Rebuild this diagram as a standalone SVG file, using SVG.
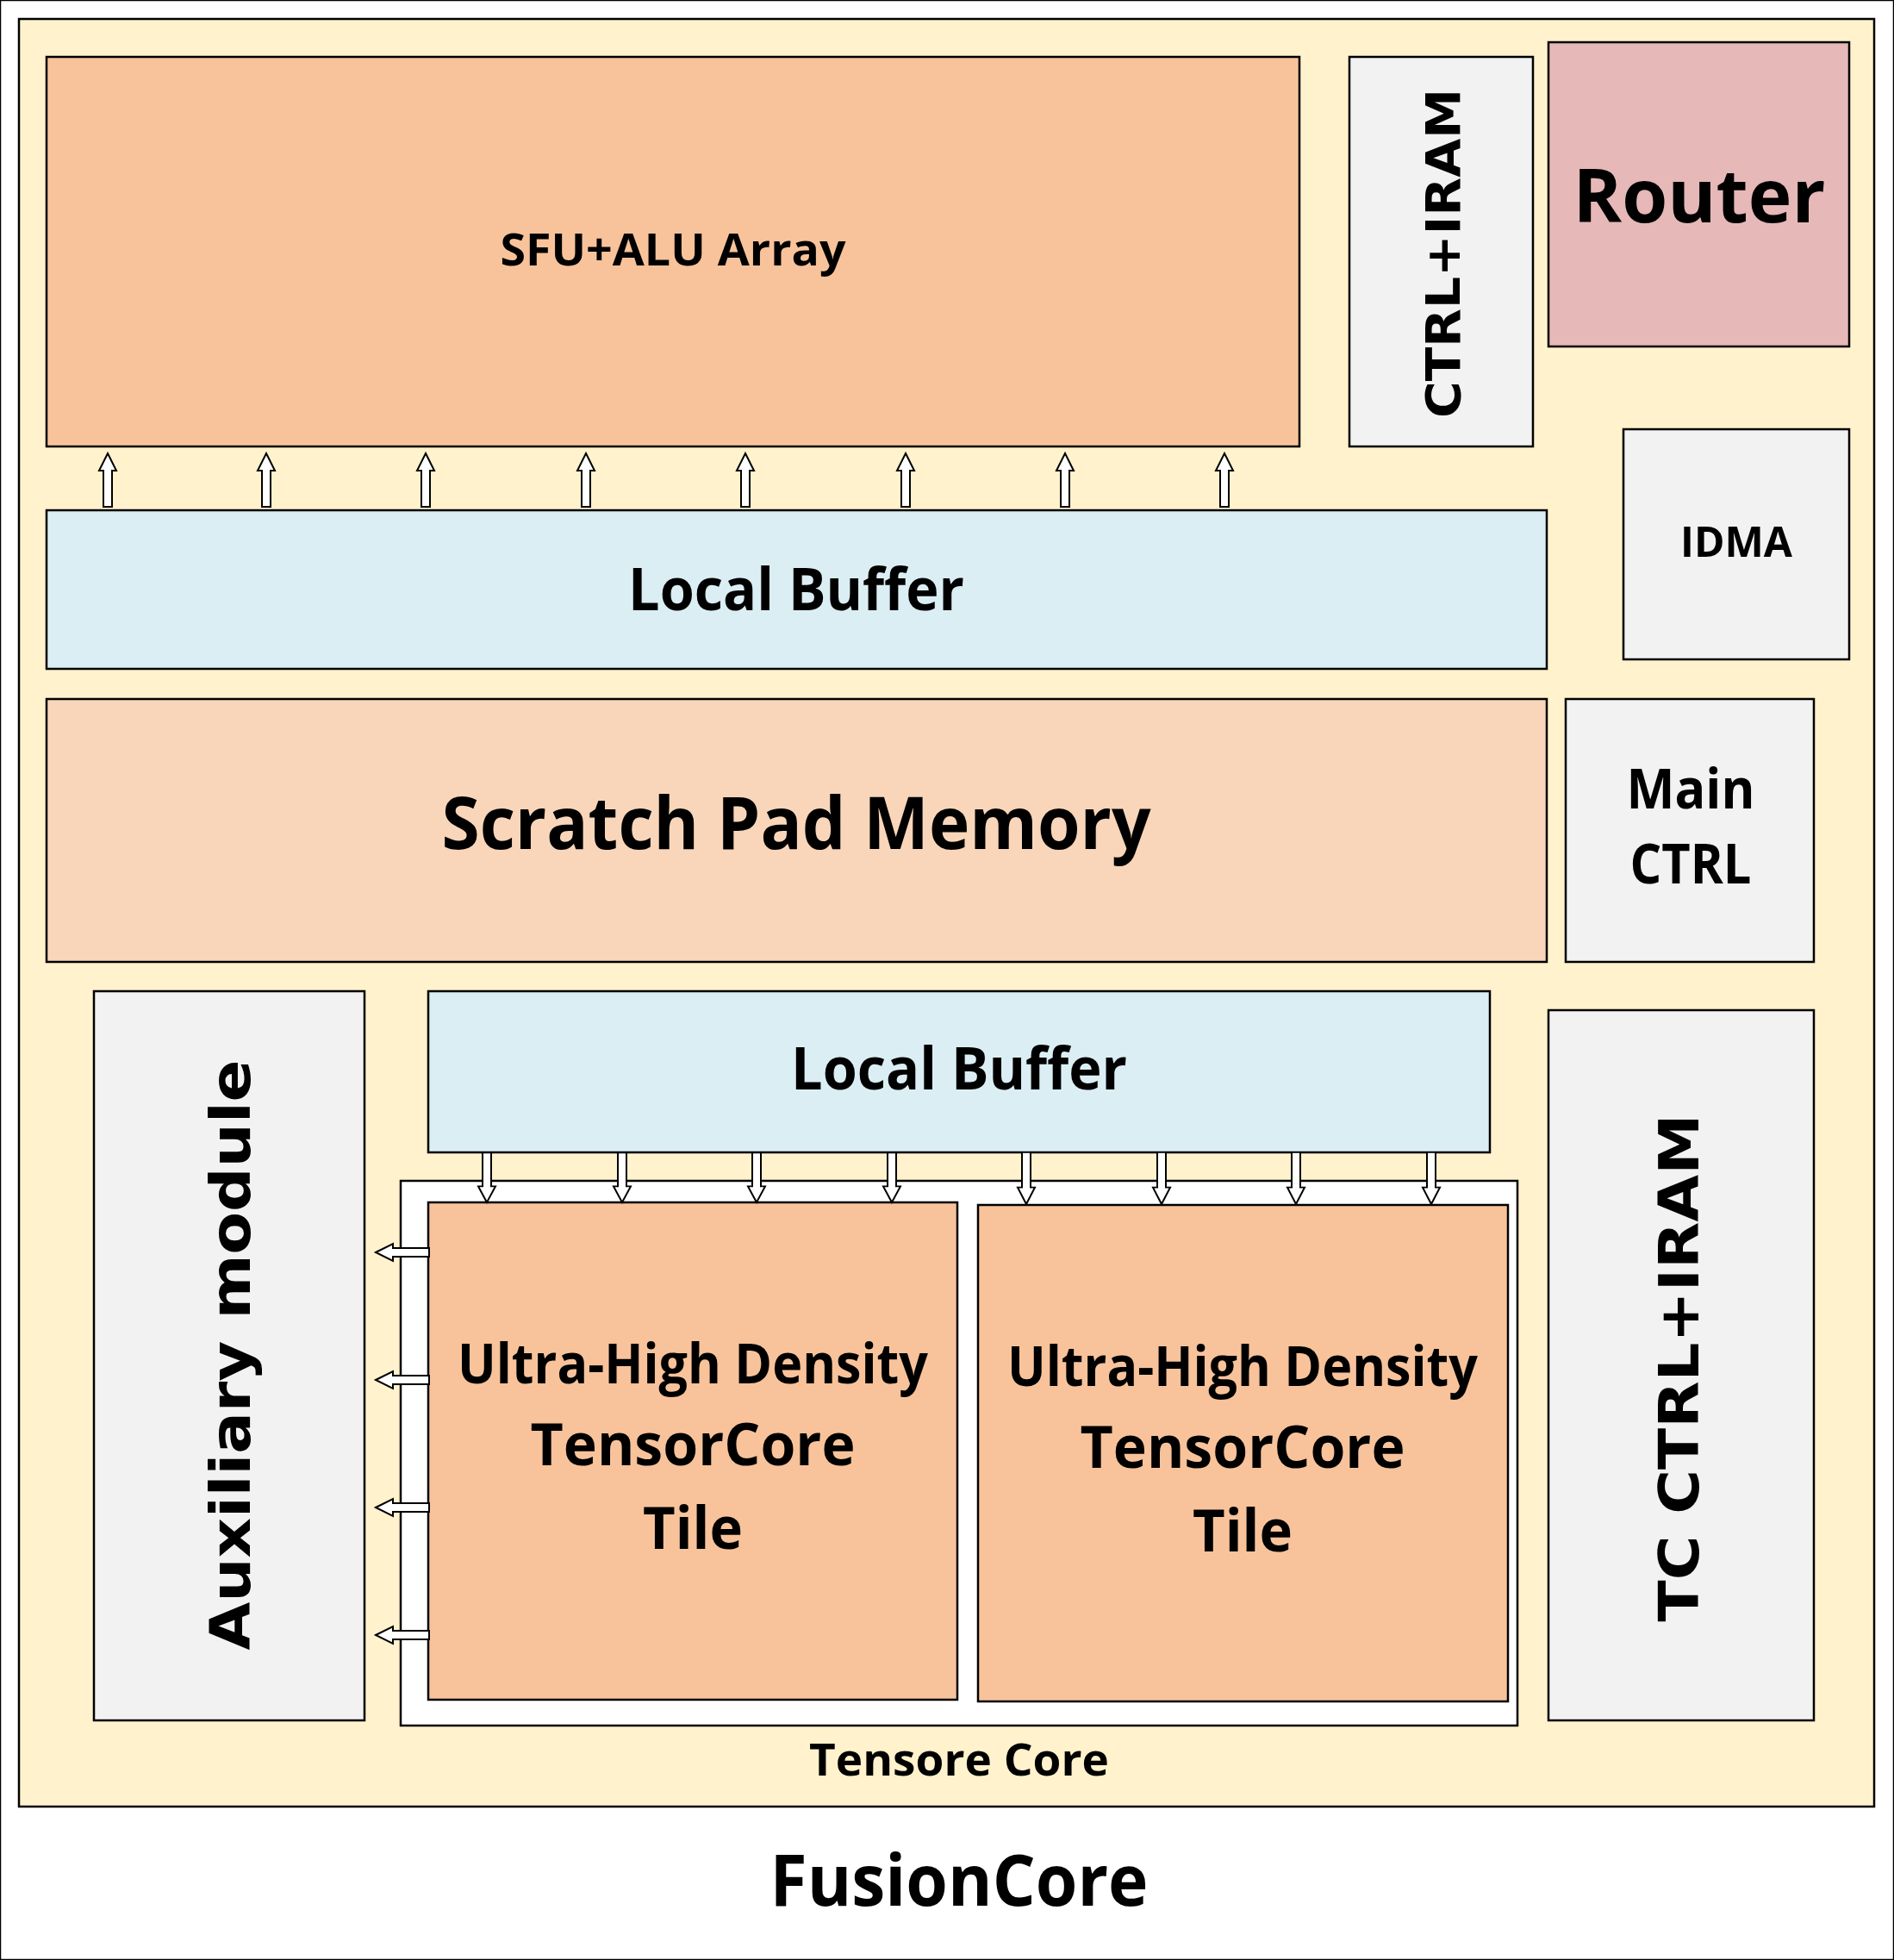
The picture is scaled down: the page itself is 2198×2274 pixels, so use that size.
<svg xmlns="http://www.w3.org/2000/svg" xmlns:xlink="http://www.w3.org/1999/xlink" width="2198" height="2274" viewBox="0 0 2198 2274">
<style>
rect{stroke:#000;stroke-width:2.5}
text{font-family:"Open Sans","Noto Sans",sans-serif;font-weight:bold;fill:#000;text-anchor:middle}
.v{font-family:"DejaVu Sans",sans-serif;dominant-baseline:central}
.arr{fill:#fff;stroke:#000;stroke-width:2}
</style>
<defs>
<path id="a" class="arr" d="M0,0 L10,20 L5,20 L5,62 L-5,62 L-5,20 L-10,20 Z"/>
</defs>
<rect width="2198" height="2274" fill="#fff" stroke="none"/>
<g id="fusioncore"><rect x="22" y="22" width="2153" height="2074" fill="#FFF2CC"/>
<text x="1113" y="2211" font-size="82" textLength="439" lengthAdjust="spacingAndGlyphs">FusionCore</text></g>
<g id="sfu"><rect x="54" y="66" width="1454" height="452" fill="#F8C39B"/>
<text x="781" y="308" font-size="52" textLength="401" lengthAdjust="spacingAndGlyphs">SFU+ALU Array</text></g>
<g id="ctrl-iram"><rect x="1566" y="66" width="213" height="452" fill="#F2F2F2"/>
<text class="v" transform="translate(1674,294) rotate(-90)" font-size="56" textLength="382" lengthAdjust="spacingAndGlyphs">CTRL+IRAM</text></g>
<g id="router"><rect x="1797" y="49" width="349" height="353" fill="#E6B8B7"/>
<text x="1972" y="258" font-size="86" textLength="293" lengthAdjust="spacingAndGlyphs">Router</text></g>
<g id="idma"><rect x="1884" y="498" width="262" height="267" fill="#F2F2F2"/>
<text x="2015" y="646" font-size="48" textLength="130" lengthAdjust="spacingAndGlyphs">IDMA</text></g>
<g id="local-buffer-1"><rect x="54" y="592" width="1741" height="184" fill="#DBEEF4"/>
<text x="924" y="708" font-size="68" textLength="390" lengthAdjust="spacingAndGlyphs">Local Buffer</text></g>
<g id="scratch"><rect x="54" y="811" width="1741" height="305" fill="#F9D6BA"/>
<text x="924" y="985" font-size="84" textLength="823" lengthAdjust="spacingAndGlyphs">Scratch Pad Memory</text></g>
<g id="main-ctrl"><rect x="1817" y="811" width="288" height="305" fill="#F2F2F2"/>
<text x="1962" y="938" font-size="64" textLength="149" lengthAdjust="spacingAndGlyphs">Main</text>
<text x="1962" y="1025" font-size="64" textLength="141" lengthAdjust="spacingAndGlyphs">CTRL</text></g>
<g id="aux"><rect x="109" y="1150" width="314" height="846" fill="#F2F2F2"/>
<text class="v" transform="translate(268,1572) rotate(-90)" font-size="64" textLength="685" lengthAdjust="spacingAndGlyphs">Auxiliary module</text></g>
<g id="local-buffer-2"><rect x="497" y="1150" width="1232" height="187" fill="#DBEEF4"/>
<text x="1113" y="1264" font-size="68" textLength="390" lengthAdjust="spacingAndGlyphs">Local Buffer</text></g>
<g id="tensor-core"><rect x="465" y="1370" width="1296" height="632" fill="#fff"/>
<text x="1113" y="2060" font-size="52" textLength="348" lengthAdjust="spacingAndGlyphs">Tensore Core</text></g>
<g id="tile-1"><rect x="497" y="1395" width="614" height="577" fill="#F8C39B"/>
<text x="804" y="1605" font-size="64" textLength="546" lengthAdjust="spacingAndGlyphs">Ultra-High Density</text>
<text x="804" y="1700" font-size="68" textLength="377" lengthAdjust="spacingAndGlyphs">TensorCore</text>
<text x="804" y="1797" font-size="68" textLength="116" lengthAdjust="spacingAndGlyphs">Tile</text></g>
<g id="tile-2"><rect x="1135" y="1398" width="615" height="576" fill="#F8C39B"/>
<text x="1442" y="1608" font-size="64" textLength="546" lengthAdjust="spacingAndGlyphs">Ultra-High Density</text>
<text x="1442" y="1703" font-size="68" textLength="377" lengthAdjust="spacingAndGlyphs">TensorCore</text>
<text x="1442" y="1800" font-size="68" textLength="116" lengthAdjust="spacingAndGlyphs">Tile</text></g>
<g id="tc-ctrl"><rect x="1797" y="1172" width="308" height="824" fill="#F2F2F2"/>
<text class="v" transform="translate(1949,1587) rotate(-90)" font-size="64" textLength="589" lengthAdjust="spacingAndGlyphs">TC CTRL+IRAM</text></g>
<g id="connectors">
<use xlink:href="#a" transform="translate(125,526)"/>
<use xlink:href="#a" transform="translate(309,526)"/>
<use xlink:href="#a" transform="translate(494,526)"/>
<use xlink:href="#a" transform="translate(680,526)"/>
<use xlink:href="#a" transform="translate(865,526)"/>
<use xlink:href="#a" transform="translate(1051,526)"/>
<use xlink:href="#a" transform="translate(1236,526)"/>
<use xlink:href="#a" transform="translate(1421,526)"/>
<use xlink:href="#a" transform="translate(565,1395) rotate(180) scale(1,0.93)"/>
<use xlink:href="#a" transform="translate(722,1395) rotate(180) scale(1,0.93)"/>
<use xlink:href="#a" transform="translate(878,1395) rotate(180) scale(1,0.93)"/>
<use xlink:href="#a" transform="translate(1035,1395) rotate(180) scale(1,0.93)"/>
<use xlink:href="#a" transform="translate(1191,1397) rotate(180) scale(1,0.97)"/>
<use xlink:href="#a" transform="translate(1348,1397) rotate(180) scale(1,0.97)"/>
<use xlink:href="#a" transform="translate(1504,1397) rotate(180) scale(1,0.97)"/>
<use xlink:href="#a" transform="translate(1661,1397) rotate(180) scale(1,0.97)"/>
<use xlink:href="#a" transform="translate(436,1453) rotate(-90)"/>
<use xlink:href="#a" transform="translate(436,1601) rotate(-90)"/>
<use xlink:href="#a" transform="translate(436,1749) rotate(-90)"/>
<use xlink:href="#a" transform="translate(436,1897) rotate(-90)"/>
</g>
</svg>
